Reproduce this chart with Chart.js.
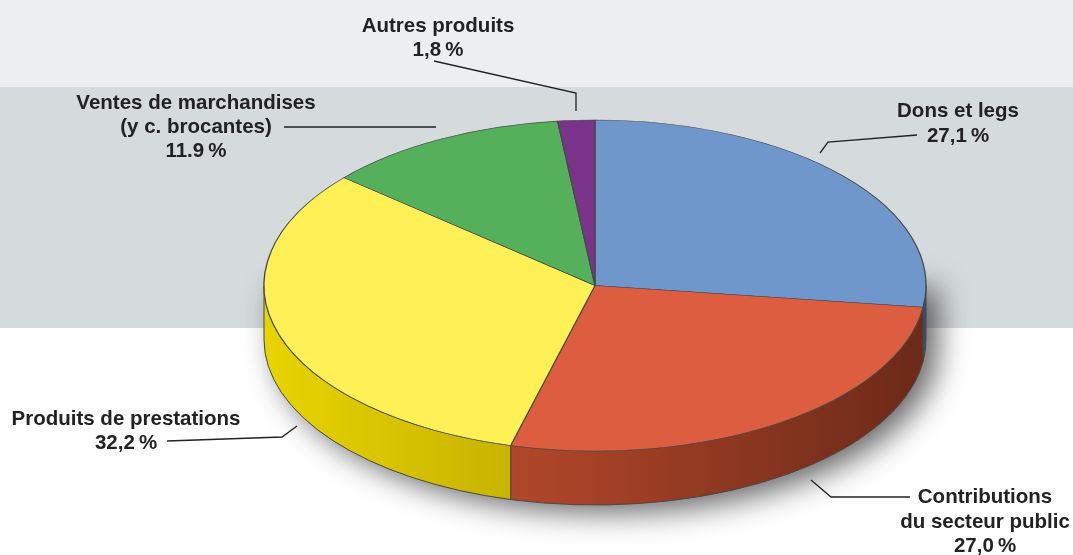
<!DOCTYPE html>
<html lang="fr">
<head>
<meta charset="utf-8">
<title>Sources de revenus</title>
<style>
  html, body { margin: 0; padding: 0; background: #fff; }
  canvas { display: block; }
</style>
<script src="https://cdn.jsdelivr.net/npm/chart.js@4"></script>
</head>
<body>
<canvas id="pie" width="1073" height="555"></canvas>
<script>
// valeurs
const categories = ["Dons et legs", "Contributions du secteur public", "Produits de prestations", "Ventes de marchandises", "Autres produits"];
const values = [27.1, 27.0, 32.2, 11.9, 1.8];
const colors = ["#7097cb", "#dc5d40", "#fff055", "#54b05a", "#79338a"];
const wallColors = [
    ["#2f4d78", "#2f4d78"],
    ["#b2472a", "#6c2a18"],
    ["#e8d400", "#c8b300"],
    ["#3a7a40", "#3a7a40"],
    ["#55226a", "#55226a"],
];

const SQUASH = 0.5;
const DEPTH = 54;
const FONT = "bold 20.5px 'Liberation Sans', Arial, sans-serif";

// textes et traits de rappel
const callouts = [
    { x: 438, lines: [["Autres produits", 32], ["1,8\u202f%", 56]], path: [[434, 61], [576, 93], [576, 111]] },
    { x: 196, lines: [["Ventes de marchandises", 109], ["(y c. brocantes)", 133], ["11.9\u202f%", 157]], path: [[284, 127], [436, 127]] },
    { x: 958, lines: [["Dons et legs", 117], ["27,1\u202f%", 142]], path: [[917, 135], [828, 142], [820, 153]] },
    { x: 126, lines: [["Produits de prestations", 425], ["32,2\u202f%", 449]], path: [[167, 441], [282, 437], [297, 426]] },
    { x: 985, lines: [["Contributions", 503], ["du secteur public", 528], ["27,0\u202f%", 552]], path: [[910, 497], [831, 497], [811, 480]] },
];

const backdrop = {
    id: "backdrop",
    beforeDraw(chart) {
        const ctx = chart.ctx;
        ctx.save();
        ctx.fillStyle = "#eceef0";
        ctx.fillRect(0, 0, chart.width, 87);
        ctx.fillStyle = "#d5dadc";
        ctx.fillRect(0, 87, chart.width, 241);
        ctx.restore();
    },
};

// dessine le flanc et l'ombre, puis aplatit le camembert
const tilt = {
    id: "tilt",
    beforeDatasetsDraw(chart) {
        const ctx = chart.ctx;
        const arcs = chart.getDatasetMeta(0).data;
        const { x, y, outerRadius: r } = arcs[0];
        const ry = r * SQUASH;

        ctx.save();
        ctx.shadowColor = "rgba(0,0,0,0.6)";
        ctx.shadowBlur = 30;
        ctx.shadowOffsetX = 12;
        ctx.shadowOffsetY = 8;
        ctx.fillStyle = "#555";
        ctx.beginPath();
        ctx.ellipse(x, y + DEPTH, r, ry, 0, 0, Math.PI);
        ctx.lineTo(x - r, y - 5);
        ctx.lineTo(x + r, y - 5);
        ctx.closePath();
        ctx.fill();
        ctx.restore();

        arcs.forEach((arc, i) => {
            const a0 = Math.max(arc.startAngle, 0);
            const a1 = Math.min(arc.endAngle, Math.PI);
            if (a1 <= a0) return;
            const xa = x + r * Math.cos(a0);
            const xb = x + r * Math.cos(a1);
            const grad = ctx.createLinearGradient(xb, 0, xa, 0);
            grad.addColorStop(0, wallColors[i][0]);
            grad.addColorStop(1, wallColors[i][1]);
            ctx.beginPath();
            ctx.ellipse(x, y, r, ry, 0, a0, a1);
            ctx.ellipse(x, y + DEPTH, r, ry, 0, a1, a0, true);
            ctx.closePath();
            ctx.fillStyle = grad;
            ctx.fill();
            ctx.strokeStyle = "#4a4a4a";
            ctx.lineWidth = 1;
            ctx.stroke();
        });

        ctx.save();
        ctx.translate(0, y);
        ctx.scale(1, SQUASH);
        ctx.translate(0, -y);
    },
    afterDatasetsDraw(chart) {
        const ctx = chart.ctx;
        ctx.restore();

        ctx.save();
        ctx.strokeStyle = "#222";
        ctx.lineWidth = 1.3;
        ctx.fillStyle = "#222";
        ctx.font = FONT;
        ctx.textAlign = "center";
        callouts.forEach((c) => {
            ctx.beginPath();
            c.path.forEach((p, i) => (i ? ctx.lineTo(p[0], p[1]) : ctx.moveTo(p[0], p[1])));
            ctx.stroke();
            c.lines.forEach((l) => ctx.fillText(l[0], c.x, l[1]));
        });
        ctx.restore();
    },
};

new Chart(document.getElementById("pie"), {
    type: "pie",
    data: {
        labels: categories,
        datasets: [{
            data: values,
            backgroundColor: colors,
            borderColor: "#4a4a4a",
            borderWidth: 1.3,
            borderJoinStyle: "round",
            clip: false,
        }],
    },
    options: {
        responsive: false,
        animation: false,
        devicePixelRatio: 1,
        radius: 331,
        layout: { padding: { left: 117, top: 16 } },
        plugins: { legend: { display: false }, tooltip: { enabled: false } },
    },
    plugins: [backdrop, tilt],
});
</script>
</body>
</html>
